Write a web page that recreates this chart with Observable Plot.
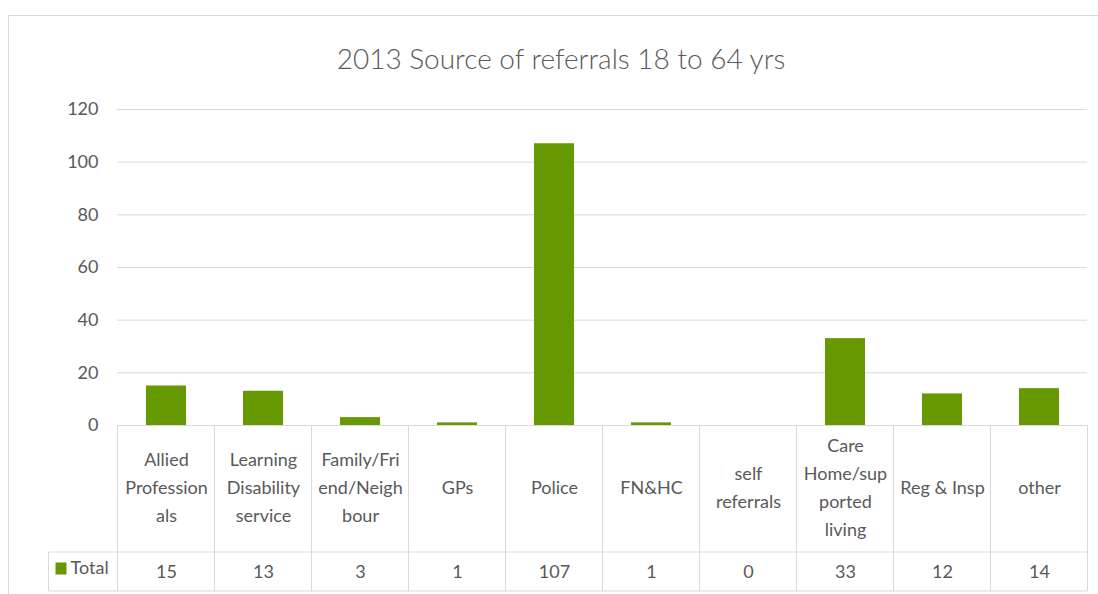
<!DOCTYPE html>
<html><head><meta charset="utf-8">
<script src="https://cdn.jsdelivr.net/npm/d3@7"></script>
<script src="https://cdn.jsdelivr.net/npm/@observablehq/plot@0.6"></script>
<style>
html,body{margin:0;padding:0;background:#fff;overflow:hidden;width:1098px;height:594px}
#frame{position:absolute;left:8px;top:15px;width:1120px;height:620px;border:1px solid #d9d9d9;box-sizing:border-box}
#wrap{position:absolute;left:0;top:0;width:1098px}
#title{position:relative;height:90px;width:1122px}
#title span{position:absolute;left:0;right:0;top:44px;text-align:center;font-family:Lato,sans-serif;font-weight:300;font-size:28px;line-height:28px;color:#595959}
svg{display:block}
</style></head>
<body>
<div id="frame"></div>
<div id="wrap"><div id="title"><span>2013 Source of referrals 18 to 64 yrs</span></div><div id="chart"></div></div>
<script>
const categories = ["Allied Professionals","Learning Disability service","Family/Friend/Neighbour","GPs","Police","FN&HC","self referrals","Care Home/supported living","Reg & Insp","other"];
const labels = ["Allied\nProfession\nals","Learning\nDisability\nservice","Family/Fri\nend/Neigh\nbour","GPs","Police","FN&HC","self\nreferrals","Care\nHome/sup\nported\nliving","Reg & Insp","other"];
const totals = [15,13,3,1,107,1,0,33,12,14];
const yTicks = [0,20,40,60,80,100,120];
const seriesName = "Total";

const data = categories.map((c,i)=>({cat:c,label:labels[i],value:totals[i]}));
const FONT = "Lato, sans-serif";
const TXT = "#595959", LINE = "#d9d9d9", GREEN = "#669900";

const chart = Plot.plot({
  width:1098, height:504, marginTop:19, marginBottom:169, marginLeft:117, marginRight:11,
  style:{fontFamily:FONT, fontSize:"18px", color:TXT, background:"transparent", overflow:"visible"},
  x:{domain:categories, paddingInner:0.59, paddingOuter:0.295, axis:null},
  y:{domain:[0,120], axis:null},
  marks:[
    Plot.gridY(yTicks, {stroke:LINE, strokeOpacity:1}),
    Plot.axisY(yTicks, {tickSize:0, tickPadding:19, fill:TXT, fontSize:18, label:null}),
    Plot.barY(data, {x:"cat", y:"value", fill:GREEN}),
    Plot.ruleY([0], {stroke:LINE}),
    Plot.text(data, {x:"cat", text:"label", frameAnchor:"bottom", lineAnchor:"middle", dy:59.5, lineHeight:28/18, fill:TXT, fontSize:18}),
    Plot.text(data, {x:"cat", text:d=>String(d.value), frameAnchor:"bottom", lineAnchor:"middle", dy:147, fill:TXT, fontSize:18})
  ]
});
document.getElementById("chart").appendChild(chart);

// data table grid, positioned with Plot's scales
const sx = chart.scale("x"), sy = chart.scale("y");
const bw = sx.bandwidth;
const step = sx.step ?? (sx.apply(categories[1]) - sx.apply(categories[0]));
const edges = categories.map(c => sx.apply(c) + bw/2 - step/2);
edges.push(edges[edges.length-1] + step);
const y0 = sy.apply(0);
const rowTop = y0 + 127, rowBottom = y0 + 166;
const tableLeft = edges[0] - 69;
const svg = d3.select(chart);
const g = svg.append("g").attr("stroke", LINE).attr("stroke-width", 1);
edges.forEach(x => g.append("line").attr("x1", x).attr("x2", x).attr("y1", y0).attr("y2", rowBottom));
g.append("line").attr("x1", tableLeft).attr("x2", tableLeft).attr("y1", rowTop).attr("y2", rowBottom);
[rowTop, rowBottom].forEach(y => g.append("line").attr("x1", tableLeft).attr("x2", edges[edges.length-1]).attr("y1", y).attr("y2", y));
const lg = svg.append("g").attr("text-anchor", "start");
lg.append("rect").attr("x", tableLeft + 7).attr("y", (rowTop+rowBottom)/2 - 9).attr("width", 11).attr("height", 12).attr("fill", GREEN);
lg.append("text").attr("x", tableLeft + 22).attr("y", (rowTop+rowBottom)/2 - 3).attr("dy", "0.32em")
  .attr("text-anchor", "start").attr("font-family", FONT).attr("font-size", 18).attr("fill", TXT).text(seriesName);
</script>
</body></html>
